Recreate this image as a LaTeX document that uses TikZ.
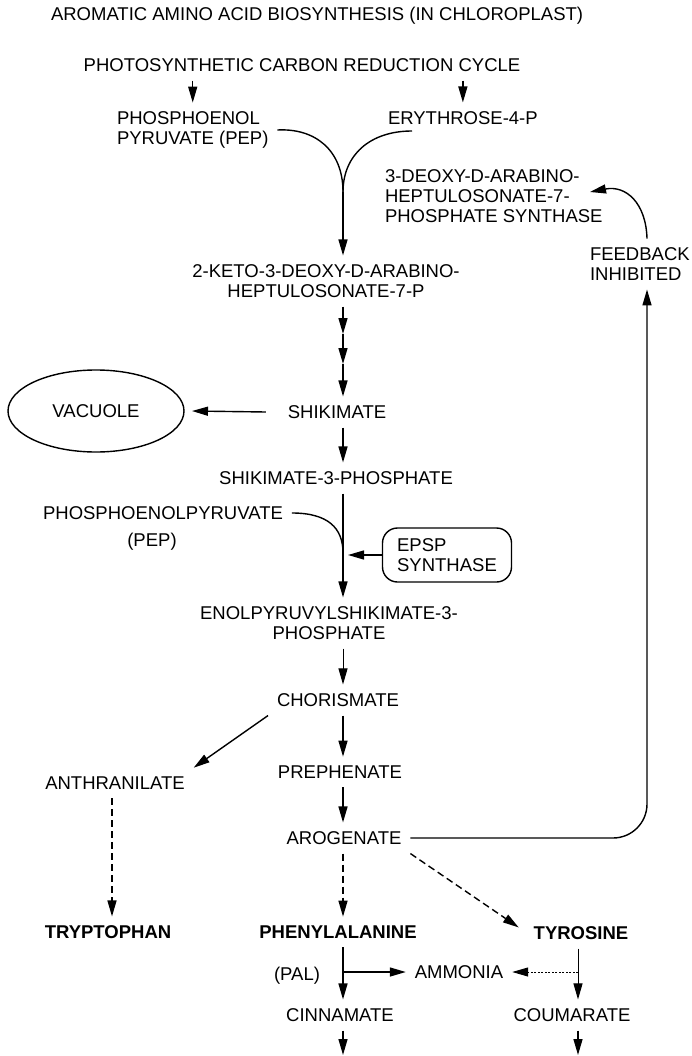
\documentclass[tikz,border=0pt]{standalone}
\usepackage{fontspec}
\setmainfont{Liberation Sans}
\usetikzlibrary{arrows.meta,shapes.geometric,calc}
\begin{document}
\begin{tikzpicture}[x=1pt,y=-1pt,
  every node/.style={font=\fontsize{18.5}{20}\selectfont},
  txt/.style={inner sep=0pt, outer sep=9pt},
  bold/.style={txt, font=\fontsize{18.5}{20}\selectfont\bfseries},
  ln/.style={line width=1.4pt},
  thin/.style={line width=1pt},
  arr/.style={ln, -{Triangle[length=16pt,width=9pt]}},
  darr/.style={arr, dash pattern=on 7pt off 4pt},
]
\useasboundingbox (0,0) rectangle (691,1056);
% columns
\coordinate (mcol) at (343,0);
\coordinate (tcol) at (112,0);
\coordinate (ycol) at (578,0);
\coordinate (fbx) at (647,0);

% nodes
\node[txt, anchor=west] (title) at (42,16) {AROMATIC AMINO ACID BIOSYNTHESIS (IN CHLOROPLAST)};
\node[txt] (pcrc) at (302,65) {PHOTOSYNTHETIC CARBON REDUCTION CYCLE};
\node[txt, anchor=west, align=left] (pep) at (108,130) {PHOSPHOENOL\\PYRUVATE (PEP)};
\node[txt, anchor=west] (e4p) at (379,118) {ERYTHROSE-4-P};
\node[txt, anchor=west, align=left] (dahps) at (376,196) {3-DEOXY-D-ARABINO-\\HEPTULOSONATE-7-\\PHOSPHATE SYNTHASE};
\node[txt, anchor=west, align=left] (fb) at (581,264) {FEEDBACK\\INHIBITED};
\node[txt, align=center] (kdahp) at (326,281) {2-KETO-3-DEOXY-D-ARABINO-\\HEPTULOSONATE-7-P};
\node[ellipse, draw, ln, minimum width=176pt, minimum height=82pt, inner sep=0pt, outer sep=8pt] (vac) at (96,411) {VACUOLE};
\node[txt] (shik) at (337,412) {SHIKIMATE};
\node[txt] (s3p) at (336,478) {SHIKIMATE-3-PHOSPHATE};
\node[txt] (pepb) at (163,513) {PHOSPHOENOLPYRUVATE};
\node[txt] (pepb2) at (152,542) {(PEP)};
\node[draw, ln, rounded corners=15pt, minimum width=129pt, minimum height=54pt, align=left, inner sep=0pt] (epsp) at (447,555) {EPSP\\SYNTHASE};
\node[txt, align=center] (eps3p) at (329,623) {ENOLPYRUVYLSHIKIMATE-3-\\PHOSPHATE};
\node[txt] (chor) at (338,700) {CHORISMATE};
\node[txt] (preph) at (340,772) {PREPHENATE};
\node[txt] (anth) at (115,783) {ANTHRANILATE};
\node[txt] (arog) at (344,838) {AROGENATE};
\node[bold] (tryp) at (108,932) {TRYPTOPHAN};
\node[bold] (phe) at (338,932) {PHENYLALANINE};
\node[bold] (tyr) at (581,933) {TYROSINE};
\node[txt] (pal) at (297,976) {(PAL)};
\node[txt] (amm) at (459,972) {AMMONIA};
\node[txt] (cinn) at (340,1015) {CINNAMATE};
\node[txt] (coum) at (572,1015) {COUMARATE};

% free-end coordinates
\coordinate (mrg) at (343,192);
\coordinate (e4pc) at (412,131);
\coordinate (fbtip) at (590,192);
\coordinate (t1) at (343,334);
\coordinate (t2) at (343,364);
\coordinate (pepj) at (343,553);
\coordinate (epspt) at (348,555);
\coordinate (endC) at (343,1055);
\coordinate (endY) at (578,1055);

% connectors
\draw[arr] (pcrc.south -| pep.north) -- (pep.north);
\draw[arr] (pcrc.south -| e4p.north) -- (e4p.north);
\draw[ln] (pep.east) .. controls (315,128) and (343,150) .. (mrg);
\draw[ln] (e4pc) .. controls (370,131) and (343,155) .. (mrg);
\draw[arr] (mrg) -- (kdahp.north -| mcol);
\draw[arr] (fb.north -| fbx) .. controls (646,203) and (626,185) .. (fbtip);
\draw[arr] (kdahp.south -| mcol) -- (t1);
\draw[arr] (t1) -- (t2);
\draw[arr] (t2) -- (shik.north -| mcol);
\draw[arr] ($(shik.west)+(-13,0)$) -- (vac.east);
\draw[arr] (shik.south -| mcol) -- (s3p.north -| mcol);
\draw[arr] (s3p.south -| mcol) -- (eps3p.north -| mcol);
\draw[ln] (pepb.east) .. controls (328,513) and (343,528) .. (pepj);
\draw[arr] (epsp.west) -- (epspt);
\draw[arr, thin] (eps3p.south -| mcol) -- (chor.north -| mcol);
\draw[arr] (chor.south -| mcol) -- (preph.north -| mcol);
\draw[arr] (preph.south -| mcol) -- (arog.north -| mcol);
\draw[arr] (chor.south west) -- (anth.north east);
\draw[darr] (anth.south -| tcol) -- (tryp.north -| tcol);
\draw[darr] (arog.south -| mcol) -- (phe.north -| mcol);
\draw[darr] (arog.south east) -- ($(tyr.north west)+(-6,10)$);
\draw[arr, rounded corners=34pt] (arog.east) -| (fb.south -| fbx);
\draw[arr] (phe.south -| mcol) -- (cinn.north -| mcol);
\draw[arr] (amm.west -| mcol) -- (amm.west);
\draw[arr, thin] (tyr.south -| ycol) -- (coum.north -| ycol);
\draw[arr, thin, dash pattern=on 2pt off 1.5pt] (amm.east -| ycol) -- (amm.east);
\draw[arr] (cinn.south -| mcol) -- (endC);
\draw[arr] (coum.south -| ycol) -- (endY);
\end{tikzpicture}
\end{document}
